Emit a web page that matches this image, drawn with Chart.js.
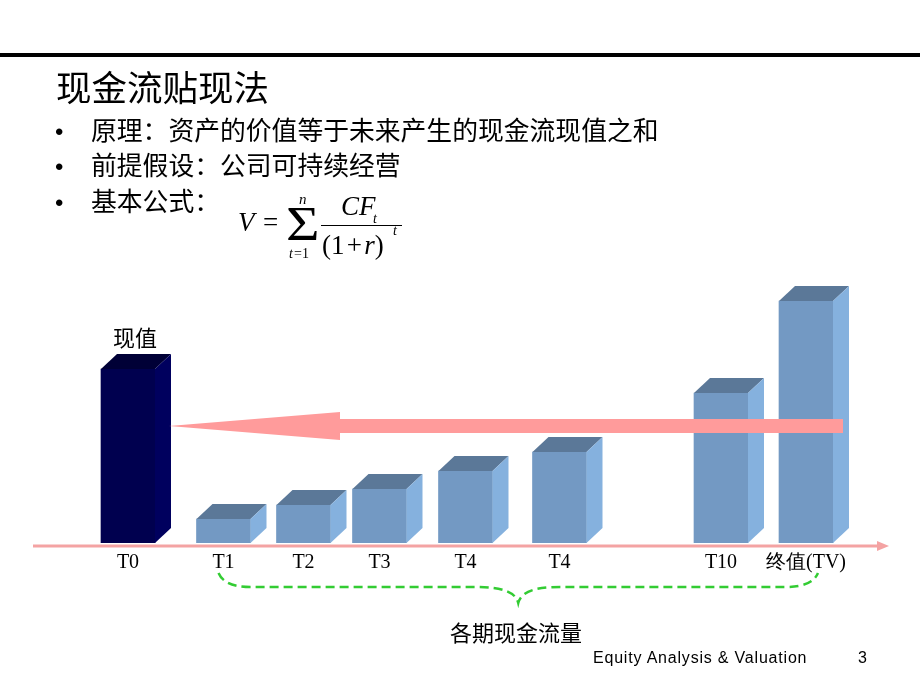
<!DOCTYPE html>
<html>
<head>
<meta charset="utf-8">
<script src="https://cdn.jsdelivr.net/npm/chart.js@4/dist/chart.umd.min.js"></script>
<style>
  html, body { margin: 0; padding: 0; background: #fff; width: 920px; height: 690px; overflow: hidden; }
  #wrap { position: relative; width: 920px; height: 690px; }
  #c { position: absolute; left: 0; top: 0; }
  .t { position: absolute; white-space: nowrap; line-height: 1; color: #000; }
  .cjk { font-family: "Noto Sans CJK SC", "Noto Sans", sans-serif; }
  .ser { font-family: "Liberation Serif", "DejaVu Serif", serif; }
  .it { font-style: italic; }
  .bul { font-size: 24px; font-family: 'Liberation Sans', Arial, sans-serif; }
  #rule { position: absolute; left: 0; top: 53px; width: 920px; height: 4px; background: #000; }
  #frac { position: absolute; left: 321px; top: 225px; width: 81px; height: 1px; background: #000; }
</style>
</head>
<body>
<div id="wrap">
  <canvas id="c" width="920" height="690"></canvas>
  <div id="rule"></div>
  <div class="t cjk" style="left:56px;top:68px;font-size:35.5px;">现金流贴现法</div>
  <div class="t bul" style="left:55px;top:120px;">•</div>
  <div class="t cjk" style="left:91px;top:116px;font-size:25.8px;">原理：资产的价值等于未来产生的现金流现值之和</div>
  <div class="t bul" style="left:55px;top:155px;">•</div>
  <div class="t cjk" style="left:91px;top:151px;font-size:25.8px;">前提假设：公司可持续经营</div>
  <div class="t bul" style="left:55px;top:191px;">•</div>
  <div class="t cjk" style="left:91px;top:187px;font-size:25.8px;">基本公式：</div>

  <div class="t ser it" style="left:238px;top:209px;font-size:27px;">V</div>
  <div class="t ser" style="left:263px;top:209px;font-size:27px;">=</div>
  <div class="t ser" style="left:286px;top:200px;font-size:48px;transform:scaleX(1.2);transform-origin:left top;">&Sigma;</div>
  <div class="t ser it" style="left:299px;top:192px;font-size:15px;">n</div>
  <div class="t ser" style="left:289px;top:247px;font-size:14px;"><span class="it">t</span>&#8202;=1</div>
  <div class="t ser it" style="left:341px;top:193px;font-size:27px;">CF</div>
  <div class="t ser it" style="left:373px;top:212px;font-size:14px;">t</div>
  <div id="frac"></div>
  <div class="t ser" style="left:322px;top:232px;font-size:27px;">(1&#8202;+&#8202;<span class="it">r</span>)</div>
  <div class="t ser it" style="left:393px;top:224px;font-size:14px;">t</div>

  <div class="t cjk" style="left:113px;top:325px;font-size:22px;">现值</div>
  <div class="t cjk" style="left:450px;top:620px;font-size:22px;">各期现金流量</div>
  <div class="t" style="left:593px;top:650px;font-size:16px;letter-spacing:0.8px;font-family:'Liberation Sans',Arial,sans-serif;">Equity Analysis &amp; Valuation</div>
  <div class="t" style="left:858px;top:650px;font-size:16px;font-family:'Liberation Sans',Arial,sans-serif;">3</div>
</div>
<script>
// ---- data ----
const tickLabels = ['T0', 'T1', 'T2', 'T3', 'T4', 'T4', 'T10', '终值(TV)'];
const positions  = [12.8, 22.35, 30.35, 37.95, 46.55, 55.95, 72.1, 80.6];
const cashValues = [174, 24, 38, 54, 72, 91, 150, 242];
const arrowLevel = 117;

// ---- styles ----
const frontColors = ['#00004f', '#7399c3', '#7399c3', '#7399c3', '#7399c3', '#7399c3', '#7399c3', '#7399c3'];
const topColors   = ['#000036', '#5b7898', '#5b7898', '#5b7898', '#5b7898', '#5b7898', '#5b7898', '#5b7898'];
const sideColors  = ['#00005e', '#85b1de', '#85b1de', '#85b1de', '#85b1de', '#85b1de', '#85b1de', '#85b1de'];
const DX = 16, DY = 15;
const PINK = '#ff9b9b';

const threeD = {
  id: 'threeD',
  beforeDatasetsDraw(chart) {
    const ctx = chart.ctx;
    const area = chart.chartArea;
    const y = area.bottom + 3;
    ctx.save();
    ctx.strokeStyle = '#f4a3a3';
    ctx.lineWidth = 3;
    ctx.beginPath();
    ctx.moveTo(33, y);
    ctx.lineTo(880, y);
    ctx.stroke();
    ctx.fillStyle = '#f4a3a3';
    ctx.beginPath();
    ctx.moveTo(877, y - 5);
    ctx.lineTo(889, y);
    ctx.lineTo(877, y + 5);
    ctx.closePath();
    ctx.fill();
    ctx.restore();
  },
  afterDatasetsDraw(chart) {
    const ctx = chart.ctx;
    const meta = chart.getDatasetMeta(0);
    ctx.save();
    meta.data.forEach((bar, i) => {
      const p = bar.getProps(['x', 'y', 'base', 'width'], true);
      const l = p.x - p.width / 2, r = p.x + p.width / 2;
      ctx.fillStyle = topColors[i];
      ctx.beginPath();
      ctx.moveTo(l, p.y);
      ctx.lineTo(l + DX, p.y - DY);
      ctx.lineTo(r + DX, p.y - DY);
      ctx.lineTo(r, p.y);
      ctx.closePath();
      ctx.fill();
      ctx.fillStyle = sideColors[i];
      ctx.beginPath();
      ctx.moveTo(r, p.y);
      ctx.lineTo(r + DX, p.y - DY);
      ctx.lineTo(r + DX, p.base - DY);
      ctx.lineTo(r, p.base);
      ctx.closePath();
      ctx.fill();
    });
    // discount arrow from terminal value back to present value
    const first = meta.data[0].getProps(['x', 'width'], true);
    const last = meta.data[meta.data.length - 1].getProps(['x', 'width'], true);
    const ay = chart.scales.y.getPixelForValue(arrowLevel);
    const tipX = first.x + first.width / 2 + DX - 2;
    const headX = 340;
    const endX = last.x + 37;
    ctx.fillStyle = PINK;
    ctx.fillRect(headX - 1, ay - 7, endX - headX + 1, 14);
    ctx.beginPath();
    ctx.moveTo(tipX, ay);
    ctx.lineTo(headX, ay - 14);
    ctx.lineTo(headX, ay + 14);
    ctx.closePath();
    ctx.fill();
    // green dashed brace under the cash flows
    const b1 = meta.data[1].getProps(['x'], true).x - 5;
    const b2 = last.x + 12;
    const mid = (b1 + b2) / 2;
    const top = 573, lvl = 587, dip = 603;
    ctx.strokeStyle = '#33cc33';
    ctx.lineWidth = 2.5;
    ctx.setLineDash([9, 5]);
    ctx.beginPath();
    ctx.moveTo(b1, top);
    ctx.quadraticCurveTo(b1 + 6, lvl, b1 + 32, lvl);
    ctx.lineTo(mid - 42, lvl);
    ctx.bezierCurveTo(mid - 18, lvl, mid - 3, lvl + 4, mid, dip);
    ctx.bezierCurveTo(mid + 3, lvl + 4, mid + 18, lvl, mid + 42, lvl);
    ctx.lineTo(b2 - 32, lvl);
    ctx.quadraticCurveTo(b2 - 6, lvl, b2, top);
    ctx.stroke();
    ctx.restore();
  }
};

new Chart(document.getElementById('c'), {
  type: 'bar',
  data: {
    datasets: [{
      data: positions.map((x, i) => ({ x: x, y: cashValues[i] })),
      backgroundColor: frontColors,
      borderWidth: 0,
      barThickness: 54
    }]
  },
  options: {
    responsive: false,
    animation: false,
    events: [],
    layout: { padding: { top: 243, bottom: 107, left: 0, right: 0 } },
    plugins: { legend: { display: false }, tooltip: { enabled: false } },
    scales: {
      x: {
        type: 'linear',
        min: 0,
        max: 92,
        offset: false,
        grid: { display: false },
        border: { display: false },
        afterBuildTicks: (s) => { s.ticks = positions.map(v => ({ value: v })); },
        afterFit: (s) => { s.height = 40; },
        ticks: {
          padding: 0,
          maxRotation: 0,
          autoSkip: false,
          color: '#000',
          font: { family: "'Liberation Serif', serif", size: 20 },
          callback: (v, i) => tickLabels[i]
        }
      },
      y: { display: false, min: 0, max: 300 }
    }
  },
  plugins: [threeD]
});
</script>
</body>
</html>
